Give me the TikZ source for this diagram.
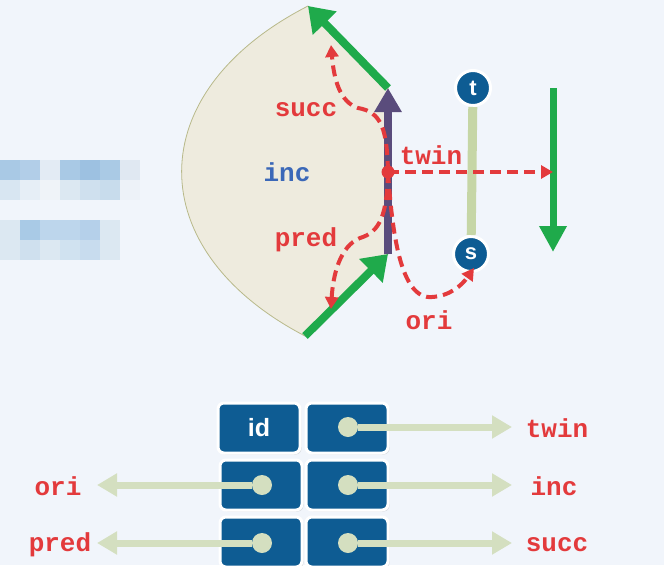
\documentclass[tikz,border=0pt]{standalone}
\usepackage{fontspec}
\setmainfont{Liberation Sans}
\newfontfamily\codefont{Liberation Mono}
\usetikzlibrary{arrows.meta,shadows}
\definecolor{bg}{HTML}{F1F5FB}
\definecolor{facefill}{HTML}{EEEBDE}
\definecolor{faceedge}{HTML}{B8B98A}
\definecolor{egreen}{HTML}{1FAA4B}
\definecolor{epurple}{HTML}{5A4C7C}
\definecolor{lred}{HTML}{E33A3C}
\definecolor{lblue}{HTML}{3B68B8}
\definecolor{boxblue}{HTML}{0E5C93}
\definecolor{pale}{HTML}{D4DFC0}
\definecolor{tline}{HTML}{C6D6A6}
\tikzset{
  lab/.style={font=\codefont\bfseries\fontsize{26}{26}\selectfont, text=lred, inner sep=0pt},
  greenedge/.style={egreen, line width=8pt, -{Triangle[length=24pt,width=32pt]}},
  reddash/.style={lred, line width=4pt, dash pattern=on 11pt off 6pt, -{Triangle[length=12pt,width=13pt]}},
  cell/.style={rectangle, rounded corners=6pt, fill=boxblue, draw=white, line width=3pt,
     minimum width=82pt, minimum height=50pt, drop shadow={opacity=0.25, shadow xshift=1.5pt, shadow yshift=-1.5pt}},
  knob/.style={circle, fill=pale, minimum size=20pt, inner sep=0pt},
  ptr/.style={pale, line width=7pt, -{Triangle[length=20pt,width=22pt]}},
  vert/.style={circle, fill=boxblue, draw=white, line width=3pt, minimum size=35pt, inner sep=0pt,
     text=white, font=\bfseries\fontsize{22}{22}\selectfont}
}
\begin{document}
\begin{tikzpicture}[x=1pt,y=-1pt]
\fill[bg] (0,0) rectangle (664,565);
\useasboundingbox (0,0) rectangle (664,565);
% pixelated (blurred) blocks on the left
\foreach \x/\c in {0/A9C9E5,20/B2CEE8,40/E3EBF4,60/A9C9E5,80/9DC1E1,100/AACAE5,120/E0E8F2}
  {\definecolor{pixc}{HTML}{\c}\fill[pixc] (\x,160) rectangle ++(20,20);}
\foreach \x/\c in {0/D8E6F2,20/E6EEF6,40/EFF3F8,60/DCE8F2,80/CFE0EE,100/C8DCEC,120/EDF2F8}
  {\definecolor{pixc}{HTML}{\c}\fill[pixc] (\x,180) rectangle ++(20,20);}
\foreach \x/\c in {0/DCE8F2,20/A9CAE6,40/BDD6EC,60/BDD6EC,80/B5D0EA,100/DCE8F2}
  {\definecolor{pixc}{HTML}{\c}\fill[pixc] (\x,220) rectangle ++(20,20);}
\foreach \x/\c in {0/DCE8F2,20/CFE0EE,40/DCE8F2,60/D0E2F0,80/C8DCEE,100/DCE8F2}
  {\definecolor{pixc}{HTML}{\c}\fill[pixc] (\x,240) rectangle ++(20,20);}

% face
\coordinate (top) at (308,6);
\coordinate (ur) at (388,88);
\coordinate (lr) at (388,254);
\coordinate (bot) at (305,336);
\fill[facefill, draw=faceedge, line width=0.8pt] (top) -- (ur) -- (lr) -- (bot)
   .. controls (140,250) and (140,92) .. (top);
\draw[greenedge] (ur) -- (top);
\draw[greenedge] (bot) -- (lr);
\draw[epurple, line width=8pt, -{Triangle[length=24pt,width=26pt]}] (lr) -- (ur);

% twin edge, vertices
\node[vert] (t) at (473,88) {t};
\node[vert] (s) at (471,254) {s};
\draw[tline, line width=9pt] (t) -- (s);
\coordinate (g1) at (553,88);
\coordinate (g2) at (553,252);
\draw[egreen, line width=7pt, -{Triangle[length=26pt,width=26pt]}] (g1) -- (g2);

% the half-edge point
\coordinate (he) at (388,172);
\coordinate (tw) at (553,172);
\coordinate (sc) at (331,45);
\coordinate (pr) at (331,309);
\coordinate (or) at (474,268);
\draw[reddash] (he) .. controls (387,130) and (382,112) .. (358,108) .. controls (340,102) and (334,80) .. (sc);
\draw[reddash] (he) .. controls (387,215) and (380,232) .. (360,238) .. controls (340,246) and (333,275) .. (pr);
\draw[reddash] (he) .. controls (392,230) and (400,300) .. (432,297) .. controls (450,296) and (462,285) .. (or);
\draw[reddash] (he) -- (tw);
\fill[lred] (he) circle (6.5pt);

\node[lab] (lsucc) at (306,110) {succ};
\node[lab, text=lblue] (linc) at (287,172) {inc};
\node[lab] (ltwin) at (431,155) {twin};
\node[lab] (lpred) at (306,240) {pred};
\node[lab] (lori) at (429,320) {ori};

% record
\node[cell, text=white, font=\bfseries\fontsize{25}{25}\selectfont] (cid) at (259,428) {id};
\node[cell] (ctwin) at (347,428) {};
\node[cell] (cori) at (261,485) {};
\node[cell] (cinc) at (347,485) {};
\node[cell] (cpred) at (261,542) {};
\node[cell] (csucc) at (347,542) {};

\node[lab] (rtwin) at (557,428) {twin};
\node[lab] (rinc) at (554,486) {inc};
\node[lab] (rsucc) at (557,545) {succ};
\node[lab] (rori) at (58,486) {ori};
\node[lab] (rpred) at (60,545) {pred};

\coordinate (etwin) at (512,427);
\coordinate (einc) at (512,485);
\coordinate (esucc) at (512,543);
\coordinate (eori) at (97,485);
\coordinate (epred) at (97,543);

\node[knob] (ktwin) at (348,427) {};
\node[knob] (kinc) at (348,485) {};
\node[knob] (ksucc) at (348,543) {};
\node[knob] (kori) at (262,485) {};
\node[knob] (kpred) at (262,543) {};
\draw[ptr] (ktwin.east) -- (etwin);
\draw[ptr] (kinc.east) -- (einc);
\draw[ptr] (ksucc.east) -- (esucc);
\draw[ptr] (kori.west) -- (eori);
\draw[ptr] (kpred.west) -- (epred);
\end{tikzpicture}
\end{document}
